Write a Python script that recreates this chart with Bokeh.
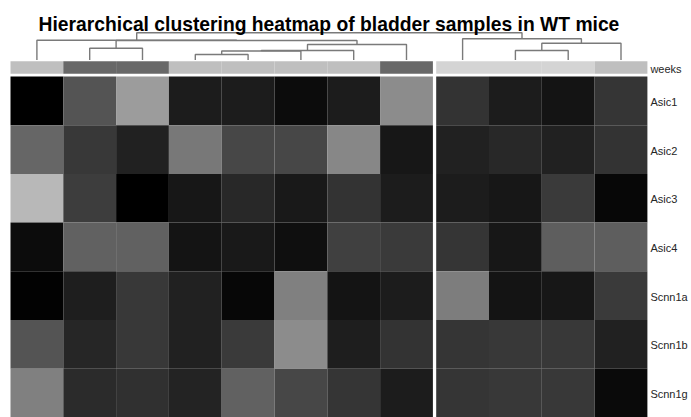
from bokeh.plotting import figure
from bokeh.models import Range1d, LinearColorMapper, ColumnDataSource
from bokeh.embed import file_html
from bokeh.resources import INLINE
from bokeh.core.properties import value

# ---------------- data ----------------
title = "Hierarchical clustering heatmap of bladder samples in WT mice"
genes = ["Asic1", "Asic2", "Asic3", "Asic4", "Scnn1a", "Scnn1b", "Scnn1g"]
n_cols = 12
left_cluster_size = 8          # columns before the cut (gap)

# annotation row "weeks" (one value per column, dendrogram order)
weeks = ["6", "12", "12", "6", "6", "6", "6", "12", "3", "3", "3", "6"]
week_colors = {"3": "#d4d4d4", "6": "#bfbfbf", "12": "#686868"}

# scaled expression (0 = black, 1 = white), columns in dendrogram order
asic1  = [0.00, 0.33, 0.61, 0.11, 0.11, 0.05, 0.11, 0.55, 0.20, 0.11, 0.08, 0.21]
asic2  = [0.40, 0.22, 0.13, 0.47, 0.28, 0.28, 0.53, 0.09, 0.13, 0.16, 0.13, 0.20]
asic3  = [0.72, 0.24, 0.00, 0.09, 0.16, 0.10, 0.20, 0.11, 0.11, 0.09, 0.23, 0.03]
asic4  = [0.05, 0.38, 0.38, 0.08, 0.10, 0.06, 0.25, 0.23, 0.21, 0.09, 0.37, 0.37]
scnn1a = [0.01, 0.12, 0.22, 0.13, 0.03, 0.50, 0.08, 0.11, 0.49, 0.08, 0.09, 0.23]
scnn1b = [0.33, 0.15, 0.22, 0.13, 0.23, 0.55, 0.12, 0.20, 0.21, 0.22, 0.22, 0.13]
scnn1g = [0.50, 0.17, 0.19, 0.14, 0.38, 0.28, 0.21, 0.11, 0.21, 0.22, 0.22, 0.04]
matrix = [asic1, asic2, asic3, asic4, scnn1a, scnn1b, scnn1g]

# column dendrogram, scipy-linkage style: (child a, child b, height)
# ids < 12 are leaves (column positions), id 12+k is merge k
merges = [
    (3, 4, 0.55),
    (12, 5, 0.90),
    (13, 6, 0.95),
    (14, 7, 1.55),
    (1, 2, 1.18),
    (16, 15, 1.95),
    (0, 17, 1.98),
    (9, 10, 0.95),
    (19, 11, 1.68),
    (8, 20, 2.12),
    (18, 21, 2.72),
]

# ---------------- layout ----------------
W, H = 691, 417
col_px = 52.8
row_px = 48.7
gap = 3.3 / col_px
x0 = -0.5 - 10 / col_px
y0 = -0.5 - (H - 76 - 7 * row_px) / row_px
dend_px = 10.0          # pixels per dendrogram height unit
dend_base_px = 59.5     # baseline of dendrogram from top of canvas

def ydata(px_from_top):
    return y0 + (H - px_from_top) / row_px

p = figure(width=W, height=H, output_backend="svg", toolbar_location=None,
           x_range=Range1d(x0, x0 + W / col_px),
           y_range=Range1d(y0, y0 + H / row_px),
           min_border=0, outline_line_color=None)
p.axis.visible = False
p.grid.visible = False
p.background_fill_color = "white"
p.border_fill_color = "white"
p.extra_y_ranges = {"dend": Range1d(-(H - dend_base_px) / dend_px, dend_base_px / dend_px)}

def colx(i):
    return i + (gap if i >= left_cluster_size else 0.0)

# heatmap cells
xs, ys, vals = [], [], []
for r, row in enumerate(matrix):
    for c, v in enumerate(row):
        xs.append(colx(c))
        ys.append(len(genes) - 1 - r)
        vals.append(v)
mapper = LinearColorMapper(palette=["#%02x%02x%02x" % (g, g, g) for g in range(256)], low=0, high=1)
src = ColumnDataSource(dict(x=xs, y=ys, v=vals))
p.rect(x="x", y="y", width=1, height=1, source=src,
       fill_color={"field": "v", "transform": mapper}, line_color=None)

# weeks annotation bar
wy_top, wy_bot = ydata(60.7), ydata(73.3)
p.rect(x=[colx(c) for c in range(n_cols)], y=(wy_top + wy_bot) / 2, width=1,
       height=wy_top - wy_bot, fill_color=[week_colors[w] for w in weeks], line_color=None)

label_font = value("Liberation Sans")
p.text(x=[colx(n_cols - 1) + 0.5], y=[ydata(68.0)], text=["weeks"],
       x_offset=3, text_baseline="middle", text_align="left", text_font=label_font,
       text_font_size="11px", text_color="#262626")

# row labels
p.text(x=[colx(n_cols - 1) + 0.5] * len(genes),
       y=[len(genes) - 1 - r for r in range(len(genes))], text=genes,
       x_offset=3, y_offset=1, text_baseline="middle", text_align="left",
       text_font=label_font, text_font_size="11px", text_color="#262626")

# dendrogram
pos = {i: colx(i) for i in range(n_cols)}
hgt = {i: 0.0 for i in range(n_cols)}
seg_xs, seg_ys = [], []
for k, (a, b, h) in enumerate(merges):
    seg_xs.append([pos[a], pos[a], pos[b], pos[b]])
    seg_ys.append([hgt[a], h, h, hgt[b]])
    nid = n_cols + k
    pos[nid] = (pos[a] + pos[b]) / 2
    hgt[nid] = h
p.multi_line(xs=seg_xs, ys=seg_ys, line_color="#7a7a7a", line_width=1.4,
             y_range_name="dend")

# title
p.text(x=[(colx(0) + colx(n_cols - 1)) / 2], y=[ydata(23.5)], text=[title],
       text_align="center", text_baseline="alphabetic",
       text_font=value("Liberation Sans"), text_font_style="bold",
       text_font_size="19.3px", text_color="#000000")

open("out.html", "w").write(file_html(p, INLINE))
